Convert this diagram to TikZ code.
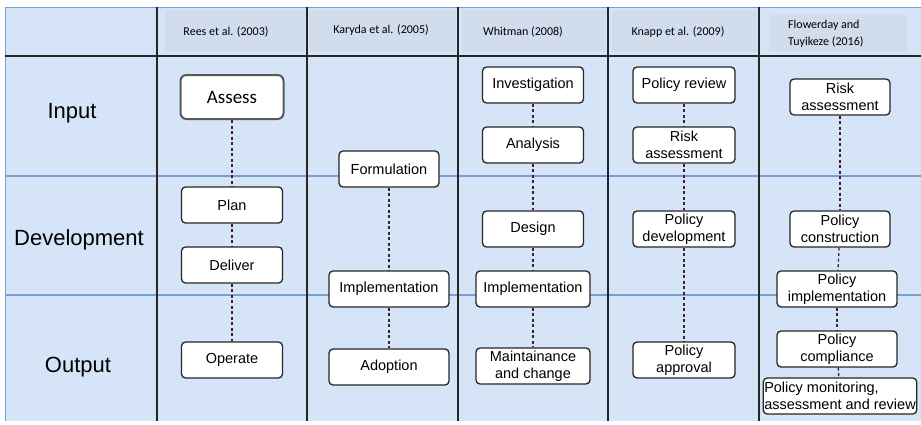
\documentclass[tikz,border=0pt]{standalone}
\usepackage{fontspec}
\setmainfont{Liberation Sans}
\newfontfamily\headfont{Carlito}
\usetikzlibrary{positioning}
\definecolor{bgblue}{RGB}{214,228,248}
\definecolor{headgray}{RGB}{209,220,236}
\definecolor{rowline}{RGB}{120,158,210}
\definecolor{linkcol}{RGB}{62,34,48}
\tikzset{
  stage/.style={rectangle, rounded corners=4pt, draw=black!85, line width=1.3pt, fill=white, align=center, inner xsep=1pt, inner ysep=0pt, minimum height=36pt, font=\fontsize{14.5}{16.5}\selectfont},
  firststage/.style={stage, draw=black!65, line width=2pt, rounded corners=6pt, font=\headfont\fontsize{19}{21}\selectfont},
  link/.style={line width=1.3pt, linkcol, dash pattern=on 3pt off 2.5pt},
  rowlabel/.style={font=\fontsize{22}{24}\selectfont, inner sep=0pt},
  colhead/.style={font=\headfont\fontsize{12}{17}\selectfont, inner sep=0pt, align=left},
  headcell/.style={fill=headgray},
  rowsep/.style={rowline, line width=1.4pt},
  colsep/.style={black!85, line width=1.3pt}
}
\begin{document}
\begin{tikzpicture}[x=1pt, y=-1pt]
  \useasboundingbox (0,0) rectangle (921,424);
  % grid
  \fill[bgblue] (5,7) rectangle (921,421);
  \fill[headcell] (165,10) rectangle (305,52);
  \fill[headcell] (309,10) rectangle (456,52);
  \fill[headcell] (462,10) rectangle (606,52);
  \fill[headcell] (612,10) rectangle (757,52);
  \fill[headcell] (769,15) rectangle (907,52);
  \draw[rowline, line width=1pt] (5,421) -- (5,7) -- (921,7);
  \draw[rowsep] (5,176) -- (921,176);
  \draw[rowsep] (5,295) -- (921,295);
  \draw[colsep] (5,56) -- (921,56);
  \foreach \cx in {157,307,458,608,759}
    \draw[colsep] (\cx,7) -- (\cx,421);

  \node[colhead] (hrees) at (226,32) {Rees et al. (2003)};
  \node[colhead] (hkaryda) at (381,30) {Karyda et al. (2005)};
  \node[colhead] (hwhitman) at (523,32) {Whitman (2008)};
  \node[colhead] (hknapp) at (678,32) {Knapp et al. (2009)};
  \node[colhead, anchor=west] (hflower) at (788,34) {Flowerday and\\Tuyikeze (2016)};

  \node[rowlabel] (input) at (72,113) {Input};
  \node[rowlabel] (devel) at (79,240) {Development};
  \node[rowlabel] (output) at (78,367) {Output};

  % Rees
  \node[firststage, minimum width=103pt, minimum height=44pt] (assess) at (232,97) {Assess};
  \node[stage, minimum width=101pt] (plan) at (232,205) {Plan};
  \node[stage, minimum width=101pt] (deliver) at (232,265) {Deliver};
  \node[stage, minimum width=101pt] (operate) at (232,360) {Operate};
  \draw[link] (assess) -- (plan);
  \draw[link] (plan) -- (deliver);
  \draw[link] (deliver) -- (operate);

  % Karyda
  \node[stage, minimum width=100pt] (formul) at (389,169) {Formulation};
  \node[stage, minimum width=120pt] (kimpl) at (389,289) {Implementation};
  \node[stage, minimum width=120pt] (adopt) at (389,367) {Adoption};
  \draw[link] (formul) -- (kimpl);
  \draw[link] (kimpl) -- (adopt);

  % Whitman
  \node[stage, minimum width=101pt] (invest) at (533,85) {Investigation};
  \node[stage, minimum width=101pt] (analys) at (533,145) {Analysis};
  \node[stage, minimum width=101pt] (design) at (533,229) {Design};
  \node[stage, minimum width=114pt] (wimpl) at (533,289) {Implementation};
  \node[stage, minimum width=114pt] (maint) at (533,366) {Maintainance\\and change};
  \draw[link] (invest) -- (analys);
  \draw[link] (analys) -- (design);
  \draw[link] (design) -- (wimpl);
  \draw[link] (wimpl) -- (maint);

  % Knapp
  \node[stage, minimum width=102pt] (review) at (684,85) {Policy review};
  \node[stage, minimum width=102pt] (krisk) at (684,145) {Risk\\assessment};
  \node[stage, minimum width=102pt] (polDev) at (684,229) {Policy\\development};
  \node[stage, minimum width=102pt] (approv) at (684,360) {Policy\\approval};
  \draw[link] (review) -- (krisk);
  \draw[link] (krisk) -- (polDev);
  \draw[link] (polDev) -- (approv);

  % Flowerday and Tuyikeze
  \node[stage, minimum width=100pt] (frisk) at (840,97) {Risk\\assessment};
  \node[stage, minimum width=100pt] (constr) at (840,229) {Policy\\construction};
  \node[stage, minimum width=120pt] (fimpl) at (837,289) {Policy\\implementation};
  \node[stage, minimum width=120pt] (compl) at (837,349) {Policy\\compliance};
  \node[stage, minimum width=151pt, align=left] (monit) at (840,396) {Policy monitoring,\\assessment and review};
  \draw[link] (frisk) -- (constr);
  \draw[link] (constr) -- (fimpl);
  \draw[link] (fimpl) -- (compl);
  \draw[link] (compl) -- (monit);
\end{tikzpicture}
\end{document}
